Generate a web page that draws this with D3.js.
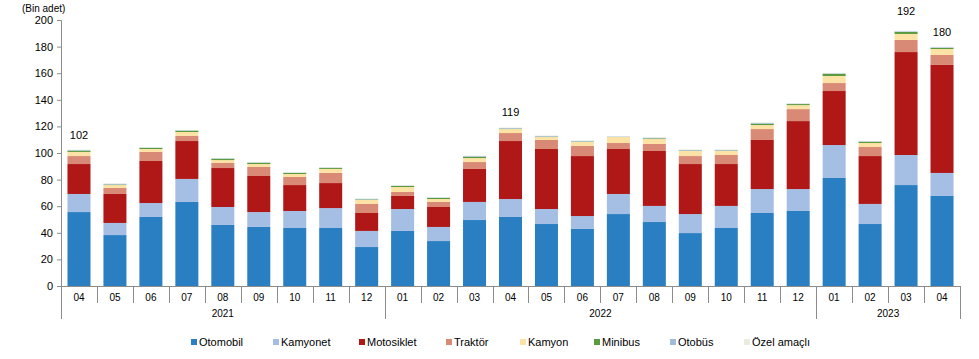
<!DOCTYPE html>
<html><head><meta charset="utf-8">
<script src="https://cdn.jsdelivr.net/npm/d3@7/dist/d3.min.js"></script>
<style>
body{margin:0;background:#fff;}
svg{display:block;font-family:"Liberation Sans",Arial,sans-serif;}
</style></head>
<body><svg id="c" width="979" height="359"></svg>
<script>
const months = ["04","05","06","07","08","09","10","11","12","01","02","03","04","05","06","07","08","09","10","11","12","01","02","03","04"];
const years = ["2021","2022","2023"];
const yearCounts = [9, 12, 4];
const seriesNames = ["Otomobil","Kamyonet","Motosiklet","Traktör","Kamyon","Minibus","Otobüs","Özel amaçlı"];
const otomobil   = [55.6,38.3,51.9,63.2,45.9,44.4,43.6,43.6,29.3,41.4,33.8,49.6,51.9,46.6,42.9,54.1,48.1,39.8,43.6,54.9,56.4,81.2,46.6,75.9,67.7];
const kamyonet   = [13.6,9.1,10.5,17.3,13.5,11.2,12.8,15.0,12.1,16.5,10.6,13.6,13.5,11.3,9.7,15.1,12.1,14.3,16.6,18.0,16.5,24.8,15.1,22.6,17.3];
const motosiklet = [22.5,21.8,31.6,28.5,29.3,27.1,19.5,18.8,13.5,9.8,15.0,24.8,43.6,45.1,45.1,33.8,41.3,37.6,31.5,36.9,51.1,40.6,36.0,77.4,81.2];
const traktor    = [6.0,4.5,6.8,3.8,3.8,6.8,6.1,7.6,6.8,3.0,3.8,5.2,6.0,6.8,7.6,4.5,5.3,6.0,6.8,8.2,9.0,6.0,6.8,9.1,7.5];
const kamyon     = [3.1,2.2,2.2,3.0,2.2,2.2,2.2,3.0,3.0,3.7,2.2,3.0,3.0,2.2,3.0,4.5,3.7,3.8,3.0,3.0,3.0,5.3,3.0,4.5,4.5];
const minibus    = [1.0,0.4,0.8,1.0,1.0,1.0,0.8,0.7,0.4,0.8,0.8,1.0,0.3,0.3,0.3,0.1,0.5,0.3,0.3,1.0,0.8,1.7,1.0,1.5,0.8];
const otobus     = [0.4,0.5,0.3,0.3,0.3,0.3,0.3,0.4,0.4,0.3,0.3,0.5,0.5,0.5,0.5,0.3,0.5,0.5,0.5,0.6,0.3,0.3,0.3,0.5,0.5];
const ozelAmacli = [0.3,0.4,0.3,0.2,0.2,0.2,0.3,0.4,0.4,0.2,0.2,0.3,0.4,0.4,0.4,0.2,0.4,0.4,0.4,0.4,0.3,0.3,0.3,0.4,0.4];
const yTicks = [0,20,40,60,80,100,120,140,160,180,200];
const labelIndex = [0,12,23,24];
const labelValue = [102,119,192,180];
const colors = ["#2a7fc2","#a5bee3","#b01818","#d98a77","#fde2a5","#5b9b3f","#a0bcd9","#e9ecdf"];

const seriesData = [otomobil,kamyonet,motosiklet,traktor,kamyon,minibus,otobus,ozelAmacli];
const rows = months.map((m,i)=>{const r={idx:i}; seriesNames.forEach((s,j)=>r[s]=seriesData[j][i]); return r;});

const svg = d3.select("#c");
const L=61, R=960, T=20, B=286;
const x = d3.scaleBand().domain(d3.range(months.length)).range([L,R]).paddingInner(0.36).paddingOuter(0.18);
const y = d3.scaleLinear().domain([0,200]).range([B,T]);
const axisColor="#8c8c8c";

const stack = d3.stack().keys(seriesNames)(rows);
svg.append("g").selectAll("g").data(stack).join("g")
  .attr("fill",(d,i)=>colors[i])
  .selectAll("rect").data(d=>d).join("rect")
  .attr("x",d=>x(d.data.idx))
  .attr("width",x.bandwidth())
  .attr("y",d=>y(d[1]))
  .attr("height",d=>Math.max(0,y(d[0])-y(d[1])));

// y axis
const yAxis = svg.append("g").attr("transform",`translate(${L},0)`)
  .call(d3.axisLeft(y).tickValues(yTicks).tickSize(4).tickPadding(4));
yAxis.select(".domain").attr("stroke",axisColor);
yAxis.selectAll(".tick line").attr("stroke",axisColor);
yAxis.selectAll("text").attr("font-size",11).attr("fill","#000").attr("font-family","Liberation Sans, Arial, sans-serif");

// x axis baseline
svg.append("line").attr("x1",L).attr("x2",R).attr("y1",B+0.5).attr("y2",B+0.5).attr("stroke",axisColor);
// month separators
const bounds = d3.range(months.length+1).map(i=>L + i*(R-L)/months.length);
const yearBounds = [0]; yearCounts.reduce((a,c)=>{yearBounds.push(a+c); return a+c;},0);
bounds.forEach((bx,i)=>{
  const isYear = yearBounds.includes(i);
  svg.append("line").attr("x1",Math.round(bx)+0.5).attr("x2",Math.round(bx)+0.5)
    .attr("y1",B).attr("y2",isYear?319:303).attr("stroke",axisColor);
});
svg.append("g").selectAll("text").data(months).join("text")
  .attr("x",(d,i)=>x(i)+x.bandwidth()/2).attr("y",301)
  .attr("text-anchor","middle").attr("font-size",10).text(d=>d);
svg.append("g").selectAll("text").data(years).join("text")
  .attr("x",(d,i)=>(bounds[yearBounds[i]]+bounds[yearBounds[i+1]])/2).attr("y",317)
  .attr("text-anchor","middle").attr("font-size",10).text(d=>d);

// unit label
svg.append("text").attr("x",22).attr("y",12).attr("font-size",10).text("(Bin adet)");

// total labels
labelIndex.forEach((idx,k)=>{
  const tot = d3.sum(seriesData, s=>s[idx]);
  const off = tot > 185 ? 16 : 11;
  svg.append("text").attr("x",x(idx)+x.bandwidth()/2).attr("y",y(tot)-off)
    .attr("text-anchor","middle").attr("font-size",11).text(labelValue[k]);
});

// legend
const legendX = [194,276,362,449,523,597,673,747];
const lg = svg.append("g");
seriesNames.forEach((s,i)=>{
  lg.append("rect").attr("x",legendX[i]-3).attr("y",339).attr("width",6).attr("height",6).attr("fill",colors[i]);
  lg.append("text").attr("x",legendX[i]+5).attr("y",346).attr("font-size",11).text(s);
});
</script></body></html>
